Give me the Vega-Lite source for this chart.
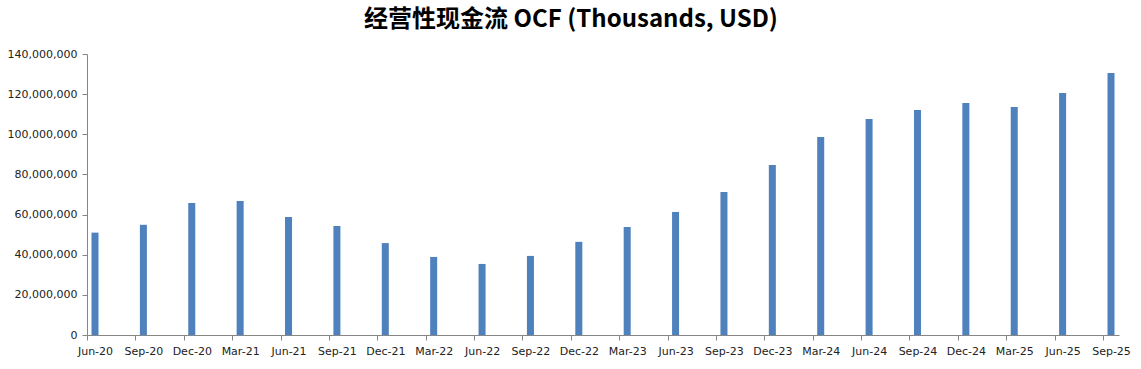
{
  "$schema": "https://vega.github.io/schema/vega-lite/v6.json",
  "autosize": {"type": "none"},
  "width": 1032,
  "height": 281,
  "padding": {"left": 87, "top": 54, "right": 22, "bottom": 34},
  "background": "white",
  "title": {
    "text": "经营性现金流 OCF (Thousands, USD)",
    "font": "Noto Sans CJK SC",
    "fontSize": 24,
    "fontWeight": "bold",
    "color": "#000000",
    "anchor": "middle",
    "dx": -32,
    "offset": 16
  },
  "data": {
    "values": [
      {"q": "Jun-20", "v": 51000000},
      {"q": "Sep-20", "v": 54900000},
      {"q": "Dec-20", "v": 65800000},
      {"q": "Mar-21", "v": 66800000},
      {"q": "Jun-21", "v": 58800000},
      {"q": "Sep-21", "v": 54300000},
      {"q": "Dec-21", "v": 45800000},
      {"q": "Mar-22", "v": 38900000},
      {"q": "Jun-22", "v": 35400000},
      {"q": "Sep-22", "v": 39400000},
      {"q": "Dec-22", "v": 46400000},
      {"q": "Mar-23", "v": 53800000},
      {"q": "Jun-23", "v": 61300000},
      {"q": "Sep-23", "v": 71300000},
      {"q": "Dec-23", "v": 84700000},
      {"q": "Mar-24", "v": 98700000},
      {"q": "Jun-24", "v": 107600000},
      {"q": "Sep-24", "v": 112100000},
      {"q": "Dec-24", "v": 115600000},
      {"q": "Mar-25", "v": 113600000},
      {"q": "Jun-25", "v": 120600000},
      {"q": "Sep-25", "v": 130500000}
    ]
  },
  "mark": {"type": "bar", "color": "#4F81BD"},
  "encoding": {
    "x": {
      "field": "q",
      "type": "ordinal",
      "sort": null,
      "scale": {"paddingInner": 0.855, "paddingOuter": 0.093, "round": false},
      "axis": {
        "title": null,
        "labelAngle": 0,
        "labelFont": "DejaVu Sans",
        "labelFontSize": 11,
        "labelColor": "#222222",
        "labelPadding": 5,
        "tickOffset": -8,
        "labelOffset": 8,
        "tickSize": 5,
        "tickColor": "#868686",
        "domainColor": "#868686",
        "grid": false
      }
    },
    "y": {
      "field": "v",
      "type": "quantitative",
      "scale": {"domain": [0, 140000000], "nice": false},
      "axis": {
        "title": null,
        "values": [0, 20000000, 40000000, 60000000, 80000000, 100000000, 120000000, 140000000],
        "format": ",d",
        "labelFont": "DejaVu Sans",
        "labelFontSize": 11,
        "labelColor": "#222222",
        "labelPadding": 5,
        "tickSize": 5,
        "tickColor": "#868686",
        "domainColor": "#868686",
        "grid": false
      }
    }
  },
  "config": {"view": {"stroke": null}}
}
